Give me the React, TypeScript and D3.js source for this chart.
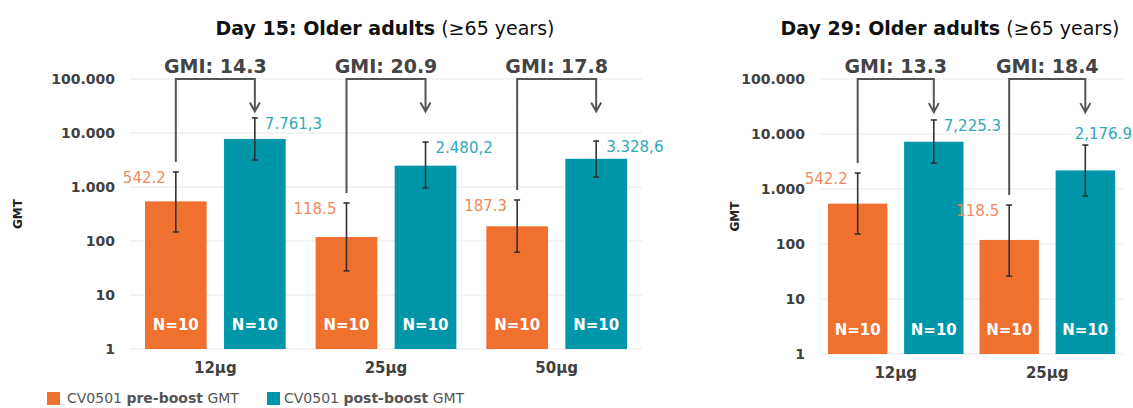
import * as d3 from "d3";

// Day 15 panel
const doses15 = ["12µg", "25µg", "50µg"];
const pre15 = [542.2, 118.5, 187.3];
const post15 = [7761.3, 2480.2, 3328.6];
const preLo15 = [147, 28, 62];
const preHi15 = [1900, 505, 575];
const postLo15 = [3160, 960, 1530];
const postHi15 = [19000, 6800, 7100];
const preText15 = ["542.2", "118.5", "187.3"];
const postText15 = ["7.761,3", "2.480,2", "3.328,6"];
const gmi15 = ["14.3", "20.9", "17.8"];
const nPre15 = [10, 10, 10];
const nPost15 = [10, 10, 10];

// Day 29 panel
const doses29 = ["12µg", "25µg"];
const pre29 = [542.2, 118.5];
const post29 = [7225.3, 2176.9];
const preLo29 = [152, 26];
const preHi29 = [1950, 510];
const postLo29 = [2960, 745];
const postHi29 = [18000, 6300];
const preText29 = ["542.2", "118.5"];
const postText29 = ["7,225.3", "2,176.9"];
const gmi29 = ["13.3", "18.4"];
const nPre29 = [10, 10];
const nPost29 = [10, 10];

const yTicks = [1, 10, 100, 1000, 10000, 100000];
const yTickLabels = ["1", "10", "100", "1.000", "10.000", "100.000"];

const ORANGE = "#f07030";
const TEAL = "#0096aa";
const ORANGE_TXT = "#f08a5c";
const TEAL_TXT = "#30a8ba";
const GREY = "#404040";
const FONT = "'DejaVu Sans', Verdana, sans-serif";

type PanelProps = {
  title: string;
  doses: string[];
  pre: number[];
  post: number[];
  preLo: number[];
  preHi: number[];
  postLo: number[];
  postHi: number[];
  preText: string[];
  postText: string[];
  gmi: string[];
  nPre: number[];
  nPost: number[];
  xRange: [number, number];
  yRange: [number, number];
  inset: number;
  titleX: number;
  axisLabelX: number;
  postLabelAbove?: number[];
};

function Panel(p: PanelProps) {
  const x0 = d3.scaleBand<string>().domain(p.doses).range(p.xRange).padding(0);
  const x1 = d3
    .scaleBand<string>()
    .domain(["pre", "post"])
    .range([p.inset, x0.bandwidth() - p.inset])
    .paddingInner(0.22);
  const y = d3.scaleLog().domain([1, 100000]).range(p.yRange);
  const bw = x1.bandwidth();
  const base = y(1);
  const top = y(100000);
  const tip = y(25000);

  return (
    <g fontFamily={FONT}>
      <text x={p.titleX} y={28} textAnchor="middle" dominantBaseline="central" fontSize={19} fill="#111">
        <tspan fontWeight="bold">{p.title}</tspan>
        <tspan> (≥65 years)</tspan>
      </text>

      {yTicks.map((t, i) => (
        <g key={t}>
          <line x1={p.xRange[0]} x2={p.xRange[1]} y1={y(t)} y2={y(t)} stroke="#e8e8e8" strokeWidth={1} />
          <text x={p.xRange[0] - 15} y={y(t)} textAnchor="end" dominantBaseline="central" fontSize={14} fontWeight="bold" fill={GREY}>
            {yTickLabels[i]}
          </text>
        </g>
      ))}

      <text
        transform={`translate(${p.axisLabelX},${(base + top) / 2}) rotate(-90)`}
        textAnchor="middle"
        dominantBaseline="central"
        fontSize={12}
        fontWeight="bold"
        fill="#222"
      >
        GMT
      </text>

      {p.doses.map((d, i) => {
        const gx = x0(d)!;
        const xPre = gx + x1("pre")!;
        const xPost = gx + x1("post")!;
        const cPre = xPre + bw / 2;
        const cPost = xPost + bw / 2;
        const preTop = y(p.preHi[i]);
        const postTop = y(p.postHi[i]);
        const above = p.postLabelAbove?.[i] === 1;
        return (
          <g key={d}>
            <rect x={xPre} y={y(p.pre[i])} width={bw} height={base - y(p.pre[i])} fill={ORANGE} />
            <rect x={xPost} y={y(p.post[i])} width={bw} height={base - y(p.post[i])} fill={TEAL} />

            {[
              [cPre, p.preLo[i], p.preHi[i]],
              [cPost, p.postLo[i], p.postHi[i]],
            ].map(([cx, lo, hi], k) => (
              <g key={k} stroke="#333" strokeWidth={1.6}>
                <line x1={cx} x2={cx} y1={y(lo)} y2={y(hi)} />
                <line x1={cx - 3} x2={cx + 3} y1={y(lo)} y2={y(lo)} />
                <line x1={cx - 3} x2={cx + 3} y1={y(hi)} y2={y(hi)} />
              </g>
            ))}

            <text x={cPre - 10} y={preTop + 6} textAnchor="end" dominantBaseline="central" fontSize={15} fill={ORANGE_TXT}>
              {p.preText[i]}
            </text>
            <text
              x={above ? cPost + 18 : cPost + 10}
              y={above ? postTop - 11 : postTop + 6}
              textAnchor={above ? "middle" : "start"}
              dominantBaseline="central"
              fontSize={15}
              fill={TEAL_TXT}
            >
              {p.postText[i]}
            </text>

            <text x={cPre} y={base - 24} textAnchor="middle" dominantBaseline="central" fontSize={15} fontWeight="bold" fill="#fff">
              N={p.nPre[i]}
            </text>
            <text x={cPost} y={base - 24} textAnchor="middle" dominantBaseline="central" fontSize={15} fontWeight="bold" fill="#fff">
              N={p.nPost[i]}
            </text>

            <path
              d={`M${cPre},${preTop - 10}V${top}H${cPost}V${tip}M${cPost - 5},${tip - 9}L${cPost},${tip}L${cPost + 5},${tip - 9}`}
              fill="none"
              stroke="#555"
              strokeWidth={2}
            />
            <text x={(cPre + cPost) / 2} y={top - 13} textAnchor="middle" dominantBaseline="central" fontSize={19} fontWeight="bold" fill="#444">
              GMI: {p.gmi[i]}
            </text>

            <text x={gx + x0.bandwidth() / 2} y={base + 19} textAnchor="middle" dominantBaseline="central" fontSize={15} fontWeight="bold" fill={GREY}>
              {d}
            </text>
          </g>
        );
      })}
    </g>
  );
}

export default function App() {
  return (
    <svg width={1133} height={408} style={{ position: "absolute", left: 0, top: 0, background: "#fff" }}>
      <rect width={1133} height={408} fill="#fff" />
      <Panel
        title="Day 15: Older adults"
        doses={doses15}
        pre={pre15}
        post={post15}
        preLo={preLo15}
        preHi={preHi15}
        postLo={postLo15}
        postHi={postHi15}
        preText={preText15}
        postText={postText15}
        gmi={gmi15}
        nPre={nPre15}
        nPost={nPost15}
        xRange={[130, 642]}
        yRange={[349, 79]}
        inset={15}
        titleX={385}
        axisLabelX={18}
      />
      <Panel
        title="Day 29: Older adults"
        doses={doses29}
        pre={pre29}
        post={post29}
        preLo={preLo29}
        preHi={preHi29}
        postLo={postLo29}
        postHi={postHi29}
        preText={preText29}
        postText={postText29}
        gmi={gmi29}
        nPre={nPre29}
        nPost={nPost29}
        xRange={[820, 1123]}
        yRange={[354, 79]}
        inset={8}
        titleX={950}
        axisLabelX={735}
        postLabelAbove={[0, 1]}
      />

      <g fontFamily={FONT} fontSize={14} fill="#555">
        <rect x={47} y={392} width={13} height={13} fill={ORANGE} />
        <text x={67} y={398} dominantBaseline="central">
          CV0501 <tspan fontWeight="bold">pre-boost</tspan> GMT
        </text>
        <rect x={267} y={392} width={13} height={13} fill={TEAL} />
        <text x={284} y={398} dominantBaseline="central">
          CV0501 <tspan fontWeight="bold">post-boost</tspan> GMT
        </text>
      </g>
    </svg>
  );
}
